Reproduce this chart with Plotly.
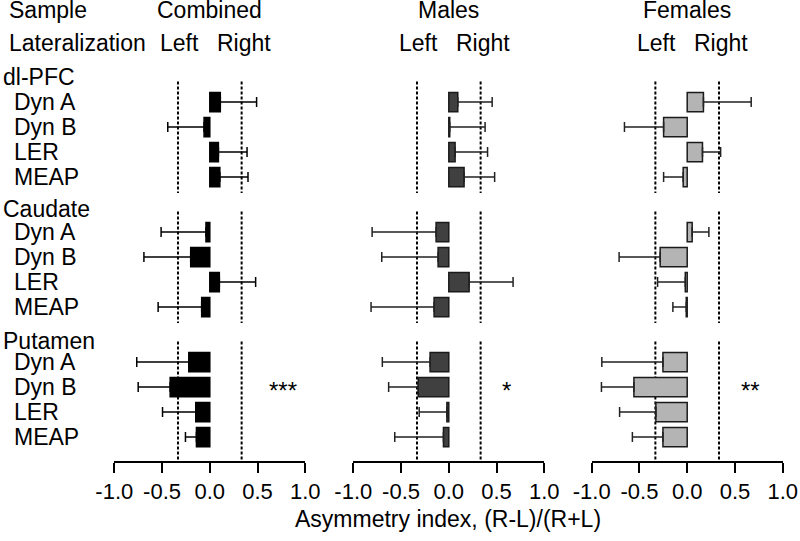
import plotly.graph_objects as go

# ---------------- data ----------------
groups = ["dl-PFC", "Caudate", "Putamen"]
measures = ["Dyn A", "Dyn B", "LER", "MEAP"]
panels = ["Combined", "Males", "Females"]

combined_mean = [0.11, -0.06, 0.09, 0.105, -0.04, -0.20, 0.10, -0.085, -0.22, -0.415, -0.147, -0.14]
combined_err = [0.38, 0.38, 0.30, 0.295, 0.47, 0.49, 0.38, 0.456, 0.545, 0.335, 0.348, 0.115]

males_mean = [0.094, 0.01, 0.066, 0.16, -0.133, -0.112, 0.213, -0.154, -0.196, -0.32, -0.02, -0.056]
males_err = [0.36, 0.37, 0.34, 0.32, 0.67, 0.59, 0.46, 0.66, 0.50, 0.31, 0.29, 0.51]

females_mean = [0.17, -0.247, 0.16, -0.042, 0.052, -0.283, -0.02, -0.01, -0.254, -0.558, -0.328, -0.254]
females_err = [0.50, 0.41, 0.19, 0.205, 0.175, 0.43, 0.29, 0.14, 0.64, 0.34, 0.38, 0.32]

significance = ["***", "*", "**"]
sig_x = [0.77, 0.606, 0.66]
threshold = 1 / 3
tick_vals = [-1.0, -0.5, 0.0, 0.5, 1.0]
tick_text = ["-1.0", "-0.5", "0.0", "0.5", "1.0"]

# ---------------- layout helpers ----------------
GROUP_STEP = 5.2
FONT = "Liberation Sans, Arial, sans-serif"
FS = 23

def row_pos(gi, mi):
    return gi * GROUP_STEP + 1 + mi

ys = [row_pos(gi, mi) for gi in range(len(groups)) for mi in range(len(measures))]
y_bottom = (461 - 77) / 25.0
y_top = -77 / 25.0

means = [combined_mean, males_mean, females_mean]
errs = [combined_err, males_err, females_err]
fills = ["#000000", "#404040", "#b4b4b4"]
edges = ["#000000", "#1a1a1a", "#1a1a1a"]
domains = [[114.3 / 800, 305.3 / 800], [353.3 / 800, 544.3 / 800], [591.7 / 800, 782.7 / 800]]
axnames = ["x", "x2", "x3"]

fig = go.Figure()
for p in range(3):
    m = means[p]
    e = errs[p]
    plus = [ei if mi >= 0 else 0 for mi, ei in zip(m, e)]
    minus = [ei if mi < 0 else 0 for mi, ei in zip(m, e)]
    fig.add_trace(go.Bar(
        x=m, y=ys, orientation="h", width=0.77,
        marker=dict(color=fills[p], line=dict(color=edges[p], width=1.5)),
        error_x=dict(type="data", symmetric=False, array=plus, arrayminus=minus,
                     color="#222222" if p else "#000000", thickness=1.5, width=5),
        xaxis=axnames[p], yaxis="y", showlegend=False, hoverinfo="skip",
    ))

layout = dict(
    template="none",
    width=800, height=541,
    margin=dict(l=0, r=0, t=0, b=80, pad=0, autoexpand=False),
    paper_bgcolor="white", plot_bgcolor="white",
    barmode="overlay",
    font=dict(family=FONT, size=FS, color="black"),
    yaxis=dict(visible=False, range=[y_bottom, y_top], domain=[0, 1], fixedrange=True, automargin=False),
)
for p in range(3):
    key = "xaxis" if p == 0 else "xaxis%d" % (p + 1)
    layout[key] = dict(
        domain=domains[p], range=[-1, 1], anchor="y", automargin=False,
        showline=True, linecolor="black", linewidth=2,
        ticks="outside", ticklen=10, tickwidth=2, tickcolor="black",
        tickvals=tick_vals, ticktext=tick_text,
        tickfont=dict(family=FONT, size=22, color="black"),
        showgrid=False, zeroline=False, fixedrange=True,
    )
fig.update_layout(**layout)

# dashed threshold lines per group
shapes = []
for p in range(3):
    for gi in range(len(groups)):
        y0 = gi * GROUP_STEP + 0.18
        y1 = y_bottom if gi == len(groups) - 1 else gi * GROUP_STEP + len(measures) + 0.64
        for sgn in (-1, 1):
            shapes.append(dict(type="line", xref=axnames[p], yref="y",
                               x0=sgn * threshold, x1=sgn * threshold, y0=y0, y1=y1,
                               line=dict(color="black", width=2, dash="3px,2px"), layer="below"))
fig.update_layout(shapes=shapes)

ann = []
# headers
ann.append(dict(text="Sample", xref="paper", x=6.7 / 800, xanchor="left", yref="y", y=-2.68, yanchor="middle", showarrow=False))
ann.append(dict(text="Lateralization", xref="paper", x=6.7 / 800, xanchor="left", yref="y", y=-1.36, yanchor="middle", showarrow=False))
for p in range(3):
    ann.append(dict(text=panels[p], xref=axnames[p], x=0, xanchor="center", yref="y", y=-2.68, yanchor="middle", showarrow=False))
    ann.append(dict(text="Left", xref=axnames[p], x=-0.095, xanchor="right", yref="y", y=-1.36, yanchor="middle", showarrow=False))
    ann.append(dict(text="Right", xref=axnames[p], x=0.05, xanchor="left", yref="y", y=-1.36, yanchor="middle", showarrow=False))
    ann.append(dict(text=significance[p], xref=axnames[p], x=sig_x[p], xanchor="center",
                    yref="y", y=row_pos(2, 1), yanchor="middle", yshift=-3, showarrow=False,
                    font=dict(size=24)))
# row labels
for gi, g in enumerate(groups):
    ann.append(dict(text=g, xref="paper", x=0.5 / 800, xanchor="left", yref="y",
                    y=gi * GROUP_STEP + (0.08 * gi), yanchor="middle", showarrow=False))
    for mi, mname in enumerate(measures):
        ann.append(dict(text=mname, xref="paper", x=12 / 800, xanchor="left", yref="y",
                        y=row_pos(gi, mi), yanchor="middle", showarrow=False))
# axis title
ann.append(dict(text="Asymmetry index, (R-L)/(R+L)", xref="paper", x=448.3 / 800, xanchor="center",
                yref="paper", y=-(519 - 461) / 461, yanchor="middle", showarrow=False))
fig.update_layout(annotations=ann)

fig.write_html("out.html", config={"displayModeBar": False},
               post_script="document.body.style.margin='0px';")
